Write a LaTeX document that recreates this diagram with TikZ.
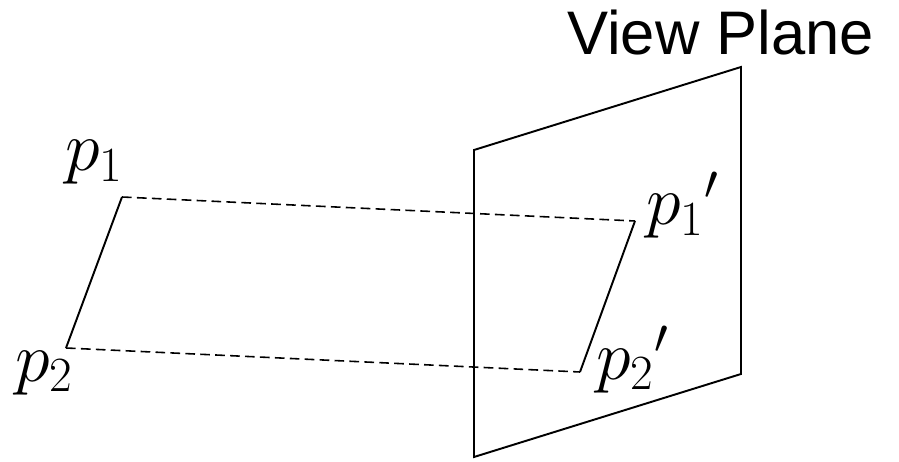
\documentclass[tikz,border=0pt]{standalone}
\usepackage{fix-cm}
\usepackage{fontspec}
\newfontfamily\planefont{Liberation Sans}
\begin{document}
\begin{tikzpicture}[x=0.02cm,y=-0.02cm,
    edge/.style={line width=1.1pt},
    proj/.style={line width=0.9pt,dash pattern=on 5.5pt off 3pt},
    ptlabel/.style={inner sep=0pt,anchor=base west,font=\fontsize{40}{48}\selectfont}]
    \useasboundingbox (0,0) rectangle (899,462);

    % view plane
    \coordinate (tl) at (474,150);
    \coordinate (tr) at (741,67);
    \coordinate (br) at (741,374);
    \coordinate (bl) at (474,457);
    \draw[edge,line join=miter] (tl) -- (tr) -- (br) -- (bl) -- cycle;
    \node[inner sep=0pt,anchor=base west,font=\planefont\fontsize{35}{42}\selectfont] (title) at (567,55) {View Plane};

    % points and their projections
    \coordinate (p1) at (122,197);
    \coordinate (p2) at (66,348);
    \coordinate (q1) at (635,221);
    \coordinate (q2) at (580,372);

    \draw[edge] (p1) -- (p2);
    \draw[edge] (q1) -- (q2);
    \draw[proj] (p1) -- (q1);
    \draw[proj] (p2) -- (q2);

    \node[ptlabel] (lp1) at (65,171) {$p_1$};
    \node[ptlabel] (lp2) at (15,381) {$p_2$};
    \node[ptlabel] (lq1) at (646,225) {$p_1{}'$};
    \node[ptlabel] (lq2) at (596,379) {$p_2{}'$};
\end{tikzpicture}
\end{document}
